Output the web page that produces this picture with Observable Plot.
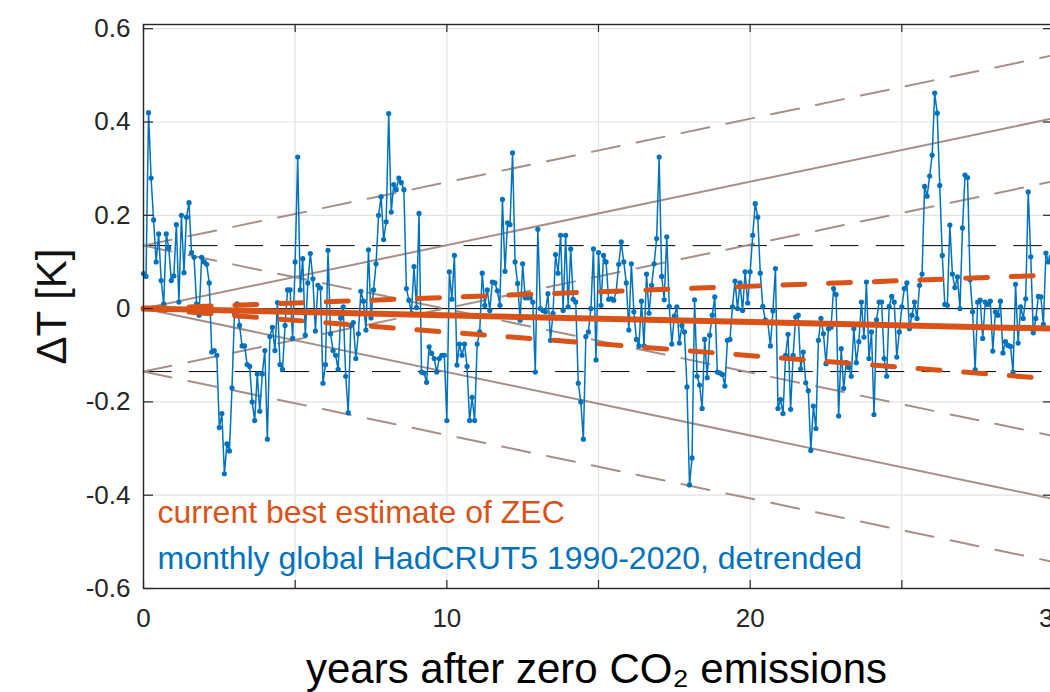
<!DOCTYPE html>
<html>
<head>
<meta charset="utf-8">
<script src="https://cdn.jsdelivr.net/npm/d3@7"></script>
<script src="https://cdn.jsdelivr.net/npm/@observablehq/plot@0.6"></script>
<style>
  html, body { margin: 0; padding: 0; background: #fff; overflow: hidden; }
  #chart { width: 1050px; height: 692px; overflow: hidden; }
  #chart svg { max-width: none !important; width: 1100px !important; height: 692px !important; display: block; }
</style>
</head>
<body>
<div id="chart"></div>
<script>
// ---- data ----
// monthly global HadCRUT5 1990-2020, detrended (K), one value per month
const monthlyDT = [
  0.075,0.069,0.42,0.28,0.19,0.10,0.16,0.06,0.01,0.16,
  0.13,0.06,0.07,0.18,0.014,0.20,0.077,0.196,0.227,0.12,
  0.11,0.01,-0.014,0.11,0.10,0.095,0.055,-0.093,-0.09,-0.10,
  -0.255,-0.225,-0.354,-0.29,-0.305,-0.17,-0.01,0.01,-0.036,-0.08,
  -0.08,-0.12,-0.124,-0.2,-0.24,-0.14,-0.22,-0.14,-0.09,-0.28,
  -0.06,-0.04,-0.09,0.013,-0.12,-0.13,-0.036,0.04,0.04,-0.064,
  0.10,0.325,
  0.04,0.107,-0.057,0.055,0.118,0.064,-0.048,0.05,0.044,-0.16,
  -0.12,0.125,-0.054,-0.09,-0.10,-0.13,-0.02,0.004,-0.145,-0.223,
  -0.036,-0.03,-0.107,-0.054,0.037,0.016,-0.046,0.126,-0.02,0.04,
  0.096,0.2,0.24,0.148,0.186,0.418,0.207,0.266,0.255,0.28,
  0.27,0.255,0.043,0.018,-0.01,0.09,0.002,0.204,-0.136,-0.138,
  -0.158,-0.082,-0.096,-0.107,-0.136,-0.107,-0.10,-0.10,-0.24,0.079,
  0.02,
  0.114,-0.121,-0.076,-0.10,-0.076,-0.124,-0.24,-0.19,-0.24,-0.076,
  -0.05,0.076,0.007,0.04,-0.004,0.057,0.055,0.038,0.007,0.234,
  0.08,0.184,0.18,0.334,0.1,0.054,-0.025,0.096,0.023,0.023,
  0.023,0.014,-0.136,0.17,0,-0.004,-0.007,0.032,-0.068,-0.01,
  0.116,0.076,0.157,-0.004,0.157,0.004,0.128,0.02,0.014,-0.16,
  -0.2,-0.28,-0.06,-0.05,0,0.128,-0.11,0.12,0.007,0.114,
  0.1,0.02,
  0.021,0.018,0.037,0.095,0.143,0.1,0.055,-0.046,0.096,-0.007,
  -0.066,-0.08,0.016,-0.08,0.074,-0.01,0.05,0.096,0.15,0.325,
  0.069,0.019,0.154,0.005,-0.076,-0.016,0.004,-0.074,-0.036,-0.05,
  -0.168,-0.378,-0.32,0.019,-0.145,-0.164,-0.214,-0.066,-0.148,-0.057,
  -0.014,0.025,-0.136,-0.138,-0.141,-0.166,-0.068,-0.066,0.004,0.059,
  0,0.055,-0.004,0.079,0.012,0.079,0.157,0.225,0.196,
  0.076,0.005,-0.024,-0.03,-0.08,-0.005,0.086,-0.214,-0.195,-0.225,
  -0.1,-0.055,-0.216,-0.1,-0.018,-0.014,-0.129,-0.093,-0.159,-0.176,
  -0.304,-0.209,-0.257,-0.068,-0.021,-0.054,-0.118,-0.043,-0.04,0.043,
  0.03,-0.23,-0.086,-0.171,-0.116,-0.126,-0.145,-0.043,-0.116,-0.071,
  0.014,-0.061,0.057,-0.107,-0.05,-0.227,-0.024,0.014,0.014,-0.107,
  -0.145,0.005,0.026,0.014,-0.104,-0.05,0.004,0.043,0.055,-0.043,
  -0.014,0.014,-0.021,0.05,0.074,0.262,0.241,0.284,0.329,0.462,
  0.419,0.264,0.114,0.009,0.007,0.179,0.074,0.045,0.068,0,
  0.173,0.286,0.281,0.062,-0.007,-0.131,0.014,0.018,-0.064,0.014,
  0.009,0.016,-0.091,-0.007,-0.014,0.016,-0.095,-0.071,-0.079,-0.081,
  -0.136,0.052,-0.074,0.004,-0.021,0.021,0.25,0.111,-0.052,-0.021,
  0.026,0.025,-0.034,0.119,0.1,0.11
];
const monthsPerYear = 12;

// straight lines: values at the two end years
const lineYears      = [0, 30];
const envUpper       = [0, 0.408];
const envLower       = [0, -0.408];
const envUpUp        = [0.135, 0.543];
const envUpDown      = [0.135, -0.273];
const envLowUp       = [-0.135, 0.273];
const envLowDown     = [-0.135, -0.543];
const zecBest        = [0, -0.043];
const zecHigh        = [0, 0.072];
const zecLow         = [0, -0.151];
const noiseLevels    = [0.135, -0.135];

// ticks
const xTicksAll   = [0, 5, 10, 15, 20, 25, 30];
const xTickLabels = [0, 10, 20, 30];
const yTicks      = [-0.6, -0.4, -0.2, 0, 0.2, 0.4, 0.6];

// texts
const labelZEC  = "current best estimate of ZEC";
const labelData = "monthly global HadCRUT5 1990-2020, detrended";
const xLabel    = "years after zero CO\u2082 emissions";
const yLabel    = "\u0394T [K]";

// ---- build tables ----
const blueData = monthlyDT.map((v, i) => ({t: i / monthsPerYear, dT: v}));
const toLine = (vals, name) => vals.map((v, i) => ({t: lineYears[i], dT: v, s: name}));
const brownSolid  = [...toLine(envUpper, "u"), ...toLine(envLower, "l")];
const brownDashed = [...toLine(envUpUp, "uu"), ...toLine(envUpDown, "ud"),
                     ...toLine(envLowUp, "lu"), ...toLine(envLowDown, "ld")];
const orangeSolid  = toLine(zecBest, "b");
const orangeDashed = [...toLine(zecHigh, "h"), ...toLine(zecLow, "l")];

const BLUE = "#0072BD", ORANGE = "#D95319", BROWN = "#a78f87", AX = "#262626";
const plotW = 1100 - 143 - 47, plotH = 692 - 24 - 104;

const chart = Plot.plot({
  width: 1100,
  height: 692,
  marginLeft: 143,
  marginRight: 47,
  marginTop: 24,
  marginBottom: 104,
  x: {domain: [0, 30]},
  y: {domain: [-0.6, 0.609]},
  style: {fontFamily: "'Liberation Sans', Arial, Helvetica, sans-serif", background: "#fff", color: AX, overflow: "visible", maxWidth: "none"},
  marks: [
    Plot.gridX(xTicksAll, {stroke: "#e3e3e3", strokeOpacity: 1, strokeWidth: 1.2}),
    Plot.gridY(yTicks, {stroke: "#e3e3e3", strokeOpacity: 1, strokeWidth: 1.2}),
    Plot.ruleY([0], {stroke: "#000", strokeWidth: 1}),
    Plot.ruleY(noiseLevels, {stroke: "#000", strokeWidth: 1, strokeDasharray: "28.5,17.3"}),
    Plot.line(brownSolid, {x: "t", y: "dT", z: "s", stroke: BROWN, strokeWidth: 2}),
    Plot.line(brownDashed, {x: "t", y: "dT", z: "s", stroke: BROWN, strokeWidth: 2, strokeDasharray: "28.5,17.3"}),
    Plot.line(blueData, {x: "t", y: "dT", stroke: BLUE, strokeWidth: 1.5, curve: "linear"}),
    Plot.dot(blueData, {x: "t", y: "dT", r: 2.6, fill: BLUE, stroke: "none"}),
    Plot.line(orangeSolid, {x: "t", y: "dT", stroke: ORANGE, strokeWidth: 6}),
    Plot.line(orangeDashed, {x: "t", y: "dT", z: "s", stroke: ORANGE, strokeWidth: 5, strokeDasharray: "22,23.7"}),
    Plot.frame({stroke: AX, strokeWidth: 1.4}),
    // inward ticks (MATLAB style)
    Plot.tickY(yTicks, {stroke: AX, strokeWidth: 1.2, insetRight: plotW - 10}),
    Plot.tickY(yTicks, {stroke: AX, strokeWidth: 1.2, insetLeft: plotW - 10}),
    Plot.tickX(xTicksAll, {stroke: AX, strokeWidth: 1.2, insetTop: plotH - 8}),
    Plot.tickX(xTicksAll, {stroke: AX, strokeWidth: 1.2, insetBottom: plotH - 8}),
    Plot.axisY(yTicks, {tickSize: 0, tickPadding: 13, fontSize: 26, label: null,
      tickFormat: d => d === 0 ? "0" : d.toFixed(1), fill: AX}),
    Plot.axisX(xTickLabels, {tickSize: 0, tickPadding: 20, fontSize: 26, label: null,
      tickFormat: d => String(d), fill: AX}),
    Plot.text([labelZEC], {text: d => d, frameAnchor: "bottom-left", dx: 14, dy: -66,
      lineAnchor: "bottom", textAnchor: "start", fill: ORANGE, fontSize: 32}),
    Plot.text([labelData], {text: d => d, frameAnchor: "bottom-left", dx: 14, dy: -20,
      lineAnchor: "bottom", textAnchor: "start", fill: BLUE, fontSize: 32}),
    Plot.text([xLabel], {text: d => d, frameAnchor: "bottom", dx: -2, dy: 94,
      lineAnchor: "bottom", textAnchor: "middle", fill: "#000", fontSize: 42}),
    Plot.text([yLabel], {text: d => d, frameAnchor: "left", dx: -78, rotate: -90,
      lineAnchor: "bottom", textAnchor: "middle", fill: "#111", fontSize: 42})
  ]
});
document.getElementById("chart").appendChild(chart);
</script>
</body>
</html>
